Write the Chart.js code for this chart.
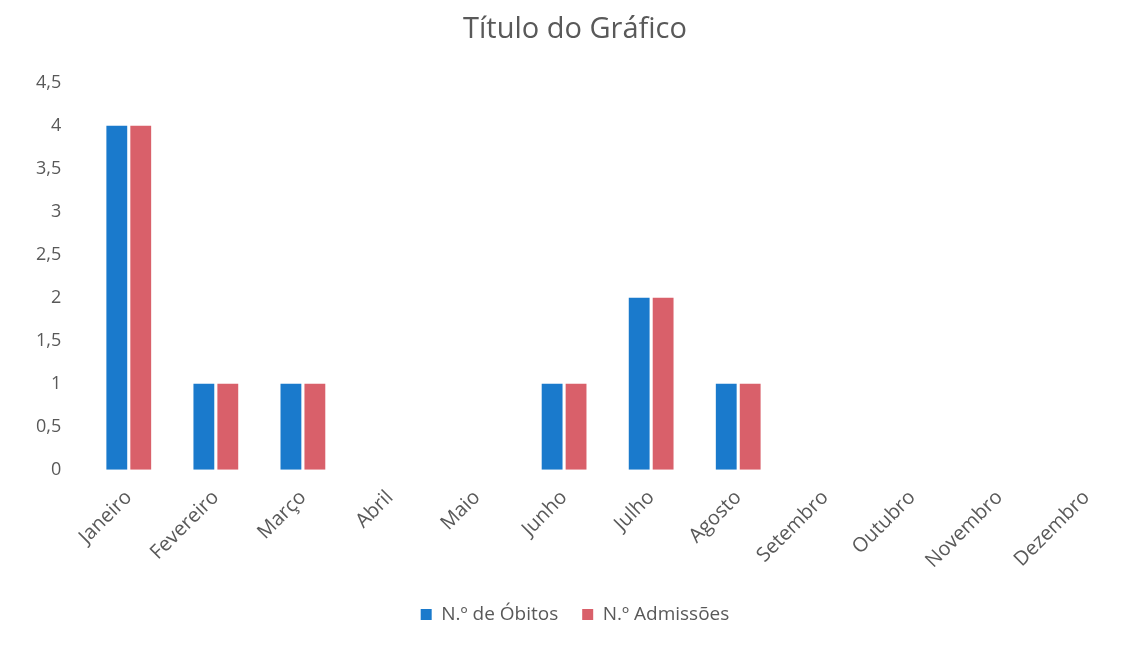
<!DOCTYPE html>
<html>
<head>
<meta charset="utf-8">
<script src="https://cdn.jsdelivr.net/npm/chart.js@4"></script>
<style>
  html, body { margin: 0; padding: 0; background: #fff; }
  #wrap { width: 1146px; height: 649px; }
</style>
</head>
<body>
<div id="wrap"><canvas id="myChart"></canvas></div>
<script>
const months = ["Janeiro", "Fevereiro", "Março", "Abril", "Maio", "Junho",
  "Julho", "Agosto", "Setembro", "Outubro", "Novembro", "Dezembro"];
const obitos = [4, 1, 1, 0, 0, 1, 2, 1, 0, 0, 0, 0];
const admissoes = [4, 1, 1, 0, 0, 1, 2, 1, 0, 0, 0, 0];

const ctx = document.getElementById("myChart");
Chart.defaults.font.family = "'Open Sans', sans-serif";
Chart.defaults.color = "#595959";

const config = {
  type: "bar",
  data: {
    labels: months,
    datasets: [
      { label: "N.º de Óbitos", data: obitos, backgroundColor: "#1a7acc" },
      { label: "N.º Admissões", data: admissoes, backgroundColor: "#d9606a" },
    ],
  },
  options: {
    responsive: true,
    maintainAspectRatio: false,
    animation: false,
    categoryPercentage: 0.55,
    barPercentage: 0.87,
    layout: { padding: { left: 20, right: 16, top: 4, bottom: 15 } },
    plugins: {
      title: {
        display: true,
        text: "Título do Gráfico",
        font: { size: 29, weight: "normal" },
        color: "#595959",
        padding: { top: 8, bottom: 36 },
      },
      legend: {
        position: "bottom",
        labels: {
          boxWidth: 11,
          boxHeight: 11,
          font: { size: 19 },
          padding: 24,
        },
      },
      tooltip: { enabled: false },
    },
    scales: {
      x: {
        grid: { display: false },
        border: { display: false },
        ticks: {
          minRotation: 45,
          maxRotation: 45,
          font: { size: 20 },
          padding: 8,
        },
      },
      y: {
        min: 0,
        max: 4.5,
        grid: { display: false },
        border: { display: false },
        ticks: {
          stepSize: 0.5,
          font: { size: 18 },
          padding: 16,
          callback: (v) => String(v).replace(".", ","),
        },
      },
    },
  },
};

const myChart = new Chart(ctx, config);
</script>
</body>
</html>
